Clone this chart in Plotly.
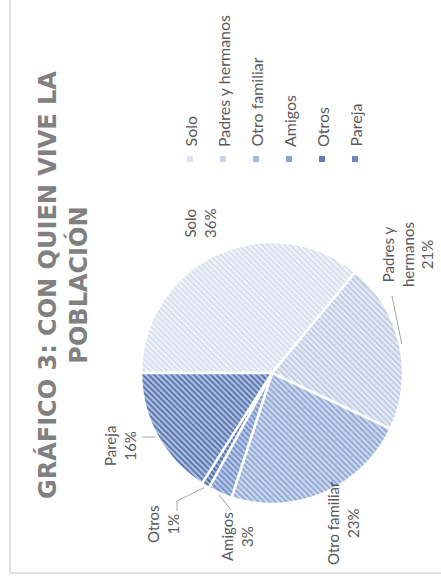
import math
import plotly.graph_objects as go

# ---- data ----
categories = ["Solo", "Padres y hermanos", "Otro familiar", "Amigos", "Otros", "Pareja"]
values = [36, 21, 23, 3, 1, 16]
pie_labels = ["Solo", "Padres y<br>hermanos", "Otro familiar", "Amigos", "Otros", "Pareja"]
title_lines = ["GRÁFICO 3: CON QUIEN VIVE LA", "POBLACIÓN"]

# ---- styling ----
W, H = 441, 586
fg_colors = ["#d6deed", "#bfcbe3", "#91a8d2", "#7591c8", "#4a68a2", "#5874ac"]
bg_colors = ["#f3f5fa", "#e8edf6", "#d0dcf1", "#bccdeb", "#a6badf", "#b4c5e5"]
swatch_colors = ["#dde3ef", "#c9d4e8", "#a5badf", "#8aa4d4", "#5f7db5", "#6a86bb"]
text_gray = "#595959"
font_family = "Lato, Carlito, Calibri, sans-serif"
title_family = "DejaVu Sans, sans-serif"

# pie placement in pixels (centre and radius)
CX, CY, R = 272, 373, 131
START_DEG = 180  # first slice begins at 9 o'clock, running clockwise


def px(x):
    return x / W


def py(y):
    return 1 - y / H


fig = go.Figure()

fig.add_trace(go.Pie(
    labels=categories,
    values=values,
    sort=False,
    direction="clockwise",
    rotation=-90,
    textinfo="none",
    hoverinfo="label+percent",
    showlegend=False,
    marker=dict(
        colors=bg_colors,
        line=dict(color="white", width=2.5),
        pattern=dict(shape="\\", fgcolor=fg_colors, bgcolor=bg_colors,
                     size=4, solidity=0.5, fillmode="replace"),
    ),
    domain=dict(x=[px(CX - R), px(CX + R)], y=[py(CY + R), py(CY - R)]),
))

# mid-angle of each slice (math convention, degrees)
total = sum(values)
mid_angles = []
acc = 0
for v in values:
    mid_angles.append(START_DEG - (acc + v / 2) / total * 360)
    acc += v


def edge_point(i, r):
    a = math.radians(mid_angles[i])
    return CX + r * math.cos(a), CY - r * math.sin(a)


shapes = []
annotations = []

# outer frame of the chart area
frame = "#d9d9d9"
shapes.append(dict(type="line", xref="paper", yref="paper",
                   x0=px(10), x1=px(10), y0=py(-5), y1=py(573),
                   line=dict(color=frame, width=1.5)))
shapes.append(dict(type="line", xref="paper", yref="paper",
                   x0=px(10), x1=px(446), y0=py(573), y1=py(573),
                   line=dict(color=frame, width=1.5)))

# title, set vertically
annotations.append(dict(
    text="<br>".join(title_lines), xref="paper", yref="paper",
    x=px(63), y=py(285), xanchor="center", yanchor="middle",
    textangle=-90, showarrow=False, align="center",
    font=dict(family=title_family, size=24, color="#808080", weight="bold"),
))

# data labels
label_pos = {
    0: (200, 224),
    1: (408, 255),
    2: (343, 523),
    3: (237, 537),
    4: (163, 524),
    5: (120, 446),
}
for i, (lx, ly) in label_pos.items():
    annotations.append(dict(
        text=f"{pie_labels[i]}<br>{values[i]}%", xref="paper", yref="paper",
        x=px(lx), y=py(ly), xanchor="center", yanchor="middle",
        textangle=-90, showarrow=False, align="center",
        font=dict(family=font_family, size=15, color=text_gray),
    ))

# leader lines: label-side points, then the slice edge
leaders = {
    1: [(392, 296)],
    3: [(231, 510)],
    4: [(177, 511), (177, 501)],
    5: [(142, 437)],
}
for i, pts in leaders.items():
    path_pts = pts + [edge_point(i, R + 2)]
    d = "M " + " L ".join(f"{px(x)},{py(y)}" for x, y in path_pts)
    shapes.append(dict(type="path", xref="paper", yref="paper", path=d,
                       line=dict(color="#a6a6a6", width=1)))

# legend, drawn vertically
leg_x0, leg_dx, leg_marker_y, leg_text_y, sw = 190, 33, 159, 149, 6
for i, name in enumerate(categories):
    lx = leg_x0 + i * leg_dx
    shapes.append(dict(type="rect", xref="paper", yref="paper",
                       x0=px(lx - sw / 2), x1=px(lx + sw / 2),
                       y0=py(leg_marker_y + sw / 2), y1=py(leg_marker_y - sw / 2),
                       fillcolor=swatch_colors[i], line=dict(width=0)))
    annotations.append(dict(
        text=name, xref="paper", yref="paper",
        x=px(lx), y=py(leg_text_y), xanchor="center", yanchor="bottom",
        textangle=-90, showarrow=False,
        font=dict(family=font_family, size=16, color=text_gray),
    ))

fig.update_layout(
    width=W, height=H, autosize=False,
    margin=dict(l=0, r=0, t=0, b=0),
    paper_bgcolor="white", plot_bgcolor="white",
    shapes=shapes, annotations=annotations,
)

fig.write_html("out.html")
